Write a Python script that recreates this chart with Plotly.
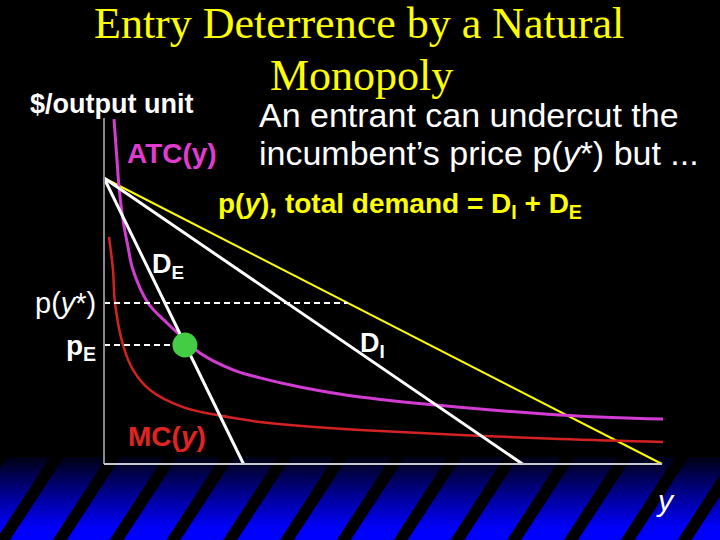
import plotly.graph_objects as go

W, H = 720, 540
# pixel mapping of the economic axes (q = output, p = $/unit)
X0_PX, QSCALE = 104, 5.58
Y0_PX, PSCALE = 464, 28.6

# ---- data ----
p_intercept = 10.0          # common price intercept of all demand curves
q_total_end = 100.0         # total demand D_I + D_E hits the axis
q_DI_end = 75.0             # incumbent demand D_I
q_DE_end = 25.0             # entrant demand D_E
p_axis_top = 12.1

p_star = 5.63               # p(y*)
q_star_total = 43.7         # where p(y*) meets total demand
p_E = 4.16                  # entrant's price
q_E = 14.5                  # entrant's output at p_E

atc_q = [1.79, 2.33, 2.69, 3.41, 4.30, 5.20, 7.89, 11.29, 13.62, 17.20, 23.12, 27.96, 35.13, 45.88, 81.72, 100.18]
atc_p = [12.06, 10.63, 9.69, 8.53, 7.59, 6.78, 5.63, 4.93, 4.51, 3.88, 3.29, 3.01, 2.69, 2.34, 1.71, 1.57]

mc_q = [0.90, 1.61, 1.97, 3.41, 5.20, 8.24, 14.16, 20.25, 27.96, 33.33, 45.88, 81.72, 100.18]
mc_p = [7.94, 6.78, 5.63, 4.16, 3.29, 2.59, 1.99, 1.71, 1.47, 1.36, 1.19, 0.87, 0.77]

title_lines = ["Entry Deterrence by a Natural", "Monopoly"]
subtitle_lines = ["An entrant can undercut the", "incumbent\u2019s price p(<i>y</i>*) but ..."]

# ---- helpers ----
def px(x):
    return x / W

def py(y):
    return 1 - y / H

xr = [-X0_PX / QSCALE, (W - X0_PX) / QSCALE]
yr = [(Y0_PX - H) / PSCALE, Y0_PX / PSCALE]

fig = go.Figure()

# demand curves
fig.add_trace(go.Scatter(x=[0, q_total_end], y=[p_intercept, 0], mode="lines",
                         line=dict(color="#ffff00", width=2)))
fig.add_trace(go.Scatter(x=atc_q, y=atc_p, mode="lines", line_shape="spline",
                         line=dict(color="#d23cd2", width=3)))
fig.add_trace(go.Scatter(x=mc_q, y=mc_p, mode="lines", line_shape="spline",
                         line=dict(color="#d42222", width=2.5)))
fig.add_trace(go.Scatter(x=[0, q_DI_end], y=[p_intercept, 0], mode="lines",
                         line=dict(color="#ffffff", width=3)))
fig.add_trace(go.Scatter(x=[0, q_DE_end], y=[p_intercept, 0], mode="lines",
                         line=dict(color="#ffffff", width=3)))
# dashed price levels
fig.add_trace(go.Scatter(x=[0, q_star_total], y=[p_star, p_star], mode="lines",
                         line=dict(color="#ffffff", width=2, dash="6px,4px")))
fig.add_trace(go.Scatter(x=[0, q_E], y=[p_E, p_E], mode="lines",
                         line=dict(color="#ffffff", width=2, dash="6px,4px")))
# entrant point
fig.add_trace(go.Scatter(x=[q_E], y=[p_E], mode="markers",
                         marker=dict(color="#44cc44", size=25, line=dict(width=0))))

shapes = []
# bottom gradient band
top, full = 457, 526
n = 28
for i in range(n):
    y0 = top + i * (H - top) / n
    y1 = top + (i + 1) * (H - top) / n + 0.5
    t = min(1.0, max(0.0, (y0 - top) / (full - top)))
    b = int(24 + (255 - 24) * t)
    shapes.append(dict(type="rect", xref="paper", yref="paper", layer="below",
                       x0=0, x1=1, y0=py(y1), y1=py(y0),
                       fillcolor=f"rgb(0,0,{b})", line=dict(width=0)))
# black diagonal stripes
period, width, shift = 56.8, 14, 54
k = -1
while True:
    xb = -4 + period * k
    if xb > W + 10:
        break
    path = (f"M {px(xb)},{py(H)} L {px(xb + width)},{py(H)} "
            f"L {px(xb + width + shift)},{py(top)} L {px(xb + shift)},{py(top)} Z")
    shapes.append(dict(type="path", xref="paper", yref="paper", layer="below",
                       path=path, fillcolor="#000000", line=dict(width=0)))
    k += 1

# axes
shapes.append(dict(type="line", xref="x", yref="y", x0=0, x1=0, y0=0, y1=p_axis_top,
                   line=dict(color="#8a8a8a", width=2)))
shapes.append(dict(type="line", xref="x", yref="y", x0=0, x1=q_total_end, y0=0, y1=0,
                   line=dict(color="#c8c8d0", width=2)))

ann = []
def text(s, x, y, size, color, family="Liberation Sans, Arial, sans-serif", xanchor="left", bold=False):
    if bold:
        s = f"<b>{s}</b>"
    ann.append(dict(text=s, x=px(x), y=py(y), xref="paper", yref="paper",
                    xanchor=xanchor, yanchor="middle", showarrow=False,
                    font=dict(size=size, color=color, family=family)))

serif = "Liberation Serif, Times New Roman, serif"
text(title_lines[0], 359, 24, 44, "#ffff00", family=serif, xanchor="center")
text(title_lines[1], 361, 76, 44, "#ffff00", family=serif, xanchor="center")
text("$/output unit", 28, 104, 27, "#ffffff", bold=True)
text("ATC(y)", 125, 153, 28, "#e03ccf", bold=True)
text(subtitle_lines[0], 257, 115, 34, "#ffffff")
text(subtitle_lines[1], 257, 153, 34, "#ffffff")
text("p(<i>y</i>), total demand = D<sub>I</sub> + D<sub>E</sub>", 216, 205, 28, "#ffff00", bold=True)
text("D<sub>E</sub>", 150, 266, 27, "#ffffff", bold=True)
text("p(<i>y</i>*)", 98, 303, 29, "#ffffff", xanchor="right")
text("p<sub>E</sub>", 98, 347, 28, "#ffffff", xanchor="right", bold=True)
text("D<sub>I</sub>", 358, 345, 27, "#ffffff", bold=True)
text("MC(<i>y</i>)", 126, 436, 28, "#e02424", bold=True)
text("<i>y</i>", 665, 500, 30, "#ffffff", xanchor="center")

fig.update_layout(
    width=W, height=H, margin=dict(l=0, r=0, t=0, b=0),
    paper_bgcolor="#000000", plot_bgcolor="#000000",
    showlegend=False,
    xaxis=dict(range=xr, visible=False, fixedrange=True),
    yaxis=dict(range=yr, visible=False, fixedrange=True),
    shapes=shapes, annotations=ann,
)

fig.write_html("out.html", config={"displayModeBar": False},
               post_script="document.body.style.margin='0';document.body.style.background='#000';")
